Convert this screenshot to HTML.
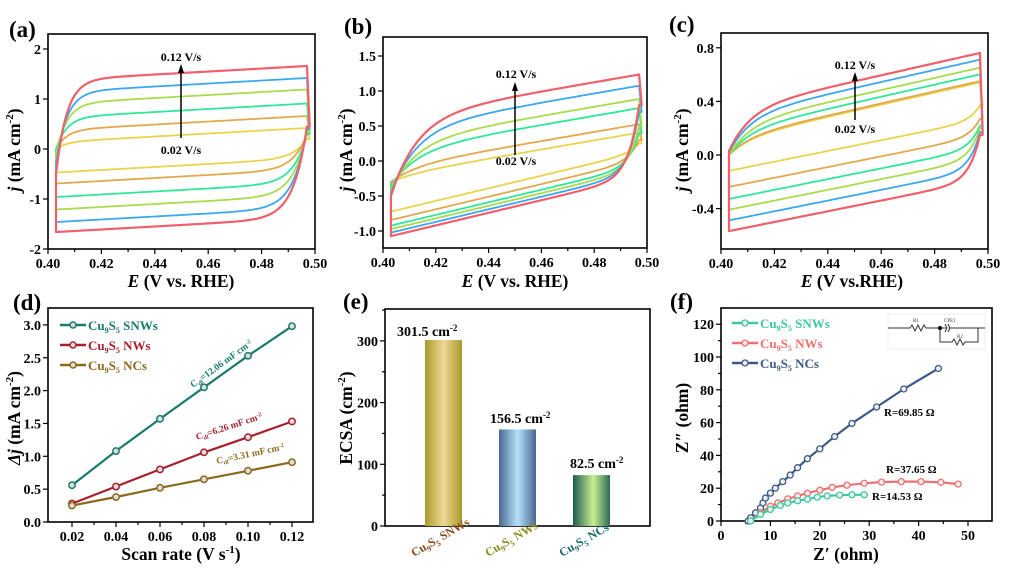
<!DOCTYPE html>
<html><head><meta charset="utf-8"><style>
html,body{margin:0;padding:0;background:#fff;}
svg{display:block;font-family:"Liberation Serif",serif;font-weight:bold;}
</style></head><body>
<svg id="s" width="1014" height="573" viewBox="0 0 1014 573" xmlns="http://www.w3.org/2000/svg">
<defs>
<linearGradient id="g1" x1="0" x2="1" y1="0" y2="0"><stop offset="0" stop-color="#a89a28"/><stop offset="0.5" stop-color="#f0d898"/><stop offset="1" stop-color="#a89a28"/></linearGradient>
<linearGradient id="g2" x1="0" x2="1" y1="0" y2="0"><stop offset="0" stop-color="#4a6890"/><stop offset="0.5" stop-color="#b4e2fa"/><stop offset="1" stop-color="#4a6890"/></linearGradient>
<linearGradient id="g3" x1="0" x2="1" y1="0" y2="0"><stop offset="0" stop-color="#1e5a50"/><stop offset="0.55" stop-color="#c8f090"/><stop offset="1" stop-color="#2a6a58"/></linearGradient>
</defs>
<g id="plots"></g>
<g font-size="23">
<text x="9" y="37">(a)</text><text x="344" y="34">(b)</text><text x="669" y="32">(c)</text>
<text x="13" y="310">(d)</text><text x="343" y="309">(e)</text><text x="670" y="309">(f)</text>
</g>
<g font-size="17.5" text-anchor="middle">
<text x="181" y="287"><tspan font-style="italic">E</tspan> (V vs. RHE)</text>
<text x="515" y="287"><tspan font-style="italic">E</tspan> (V vs. RHE)</text>
<text x="852" y="287"><tspan font-style="italic">E</tspan> (V vs.RHE)</text>
<text x="181" y="560">Scan rate (V s<tspan font-size="11" dy="-7">-1</tspan><tspan dy="7">)</tspan></text>
<text x="846" y="560">Z′ (ohm)</text>
<text transform="translate(20,150) rotate(-90)"><tspan font-style="italic">j</tspan> (mA cm<tspan font-size="11" dy="-7">-2</tspan><tspan dy="7">)</tspan></text>
<text transform="translate(352,150) rotate(-90)"><tspan font-style="italic">j</tspan> (mA cm<tspan font-size="11" dy="-7">-2</tspan><tspan dy="7">)</tspan></text>
<text transform="translate(688,150) rotate(-90)"><tspan font-style="italic">j</tspan> (mA cm<tspan font-size="11" dy="-7">-2</tspan><tspan dy="7">)</tspan></text>
<text transform="translate(20,418) rotate(-90)"><tspan font-style="italic">Δj</tspan> (mA cm<tspan font-size="11" dy="-7">-2</tspan><tspan dy="7">)</tspan></text>
<text transform="translate(352,418) rotate(-90)">ECSA (cm<tspan font-size="11" dy="-7">-2</tspan><tspan dy="7">)</tspan></text>
<text transform="translate(688,418) rotate(-90)">Z″ (ohm)</text>
</g>
<g font-size="12" text-anchor="middle">
<text x="181" y="61">0.12 V/s</text><text x="181" y="154">0.02 V/s</text>
<text x="516" y="78">0.12 V/s</text><text x="516" y="165">0.02 V/s</text>
<text x="855" y="69">0.12 V/s</text><text x="855" y="133">0.02 V/s</text>
</g>
<g font-size="14">
<text x="397" y="336">301.5 cm<tspan font-size="9" dy="-5">-2</tspan></text>
<text x="490" y="423">156.5 cm<tspan font-size="9" dy="-5">-2</tspan></text>
<text x="570" y="468">82.5 cm<tspan font-size="9" dy="-5">-2</tspan></text>
</g>
<g font-size="12">
<text transform="translate(414,557) rotate(-30)" fill="#8a4a1a">Cu<tspan font-size="8" dy="3">9</tspan><tspan dy="-3">S</tspan><tspan font-size="8" dy="3">5</tspan><tspan dy="-3"> SNWs</tspan></text>
<text transform="translate(488,557) rotate(-30)" fill="#8a8a1a">Cu<tspan font-size="8" dy="3">9</tspan><tspan dy="-3">S</tspan><tspan font-size="8" dy="3">5</tspan><tspan dy="-3"> NWs</tspan></text>
<text transform="translate(562,557) rotate(-30)" fill="#1a6a6a">Cu<tspan font-size="8" dy="3">9</tspan><tspan dy="-3">S</tspan><tspan font-size="8" dy="3">5</tspan><tspan dy="-3"> NCs</tspan></text>
</g>
<g font-size="13">
<text x="88" y="330" fill="#1a7a6e">Cu<tspan font-size="8" dy="3">9</tspan><tspan dy="-3">S</tspan><tspan font-size="8" dy="3">5</tspan><tspan dy="-3"> SNWs</tspan></text>
<text x="88" y="350" fill="#a8202e">Cu<tspan font-size="8" dy="3">9</tspan><tspan dy="-3">S</tspan><tspan font-size="8" dy="3">5</tspan><tspan dy="-3"> NWs</tspan></text>
<text x="88" y="370" fill="#8a6a1a">Cu<tspan font-size="8" dy="3">9</tspan><tspan dy="-3">S</tspan><tspan font-size="8" dy="3">5</tspan><tspan dy="-3"> NCs</tspan></text>
<text x="760" y="328" fill="#3cc9a0">Cu<tspan font-size="8" dy="3">9</tspan><tspan dy="-3">S</tspan><tspan font-size="8" dy="3">5</tspan><tspan dy="-3"> SNWs</tspan></text>
<text x="760" y="348" fill="#f07070">Cu<tspan font-size="8" dy="3">9</tspan><tspan dy="-3">S</tspan><tspan font-size="8" dy="3">5</tspan><tspan dy="-3"> NWs</tspan></text>
<text x="760" y="368" fill="#3d5a87">Cu<tspan font-size="8" dy="3">9</tspan><tspan dy="-3">S</tspan><tspan font-size="8" dy="3">5</tspan><tspan dy="-3"> NCs</tspan></text>
</g>
<g font-size="9.5">
<text transform="translate(193,388) rotate(-36)" fill="#1a7a6e">C<tspan font-size="6" dy="2">dl</tspan><tspan dy="-2">=12.06 mF cm</tspan><tspan font-size="6" dy="-3">-2</tspan></text>
<text transform="translate(197,440) rotate(-18)" fill="#a8202e">C<tspan font-size="6" dy="2">dl</tspan><tspan dy="-2">=6.26 mF cm</tspan><tspan font-size="6" dy="-3">-2</tspan></text>
<text transform="translate(217,464) rotate(-12)" fill="#8a6a1a">C<tspan font-size="6" dy="2">dl</tspan><tspan dy="-2">=3.31 mF cm</tspan><tspan font-size="6" dy="-3">-2</tspan></text>
</g>
<g font-size="11">
<text x="884" y="416">R=69.85 Ω</text>
<text x="886" y="473">R=37.65 Ω</text>
<text x="872" y="500">R=14.53 Ω</text>
</g>
<rect x="888" y="314" width="97" height="35" fill="none" stroke="#eee"/>
<g stroke="#333" fill="none" stroke-width="1">
<path d="M888 328 H910 l2 -3 3 6 3 -6 3 6 3 -6 2 3 H940 M940 328 H946 M949 328 H985 M940 328 V342 H952 l2 -3 3 6 3 -6 3 6 2 -3 H978 V328"/>
<path d="M945 324 l2 4 -2 4 M948 324 l2 4 -2 4"/>
</g>
<circle cx="940" cy="328" r="2" fill="#000"/>
<g font-size="5" fill="#333" font-weight="normal"><text x="913" y="322">R1</text><text x="944" y="322">CPE1</text><text x="957" y="338">R2</text></g>
</svg>
<script>
var G=document.getElementById('plots'),NS='http://www.w3.org/2000/svg';
function el(t,a,p){var e=document.createElementNS(NS,t);for(var k in a)e.setAttribute(k,a[k]);(p||G).appendChild(e);return e;}
function txt(x,y,s,anc,fs){var e=el('text',{x:x,y:y,'text-anchor':anc,'font-size':fs||14});e.textContent=s;}
function frame(x0,x1,y0,y1){el('rect',{x:x0,y:y0,width:x1-x0,height:y1-y0,fill:'none',stroke:'#000','stroke-width':1.6});}
function xt(x,yb,lab,major){el('line',{x1:x,x2:x,y1:yb,y2:yb+(major?5:3),stroke:'#000','stroke-width':1.2});if(lab!=null)txt(x,yb+19,lab,'middle');}
function yt(xl,y,lab,major){el('line',{x1:xl,x2:xl-(major?5:3),y1:y,y2:y,stroke:'#000','stroke-width':1.2});if(lab!=null)txt(xl-7,y+5,lab,'end');}
var cols=['#e8d44d','#e3a84b','#2ee89a','#a7dc4b','#3aa7f0','#f0606a'];
function cv(P){
 var X=function(v){return P.x0+(v-0.40)/0.1*(P.x1-P.x0)},Y=function(v){return P.yz-v*P.ys};
 frame(P.x0,P.x1,P.y0,P.y1);
 ['0.40','0.42','0.44','0.46','0.48','0.50'].forEach(function(l,i){xt(X(0.4+i*0.02),P.y1,l,1);if(i<5)xt(X(0.41+i*0.02),P.y1,null,0);});
 P.yt.forEach(function(v){yt(P.x0,Y(v[0]),v[1],1);});
 for(var k=0;k<6;k++){
  var m=P.m[k],n=P.n[k],d='',xl=P.xl,xr=P.xr;
  var uA=(m+P.sl*(xl-0.45))-P.j0[k];
  for(var x=xl;x<=xr+1e-9;x+=0.001){var v=m+P.sl*(x-0.45)-uA*Math.exp(-(x-xl)/P.tau);d+=(d?'L':'M')+X(x).toFixed(1)+' '+Y(v).toFixed(1);}
  var lB=P.j1[k]-(n+P.sl2*(xr-0.45));
  d+='L'+X(xr+0.001).toFixed(1)+' '+Y(P.j1[k]).toFixed(1);
  for(var x=xr;x>=xl-1e-9;x-=0.001){var v=n+P.sl2*(x-0.45)+lB*Math.exp(-(xr-x)/P.tau2);d+='L'+X(x).toFixed(1)+' '+Y(v).toFixed(1);}
  d+='Z';
  el('path',{d:d,fill:'none',stroke:cols[k],'stroke-width':k==5?2.2:1.8,'stroke-linejoin':'round'});
 }
 el('line',{x1:P.ax,x2:P.ax,y1:P.ay0,y2:P.ay1+8,stroke:'#000','stroke-width':1.5});
 el('path',{d:'M'+(P.ax-3)+' '+(P.ay1+9)+'L'+P.ax+' '+P.ay1+'L'+(P.ax+3)+' '+(P.ay1+9)+'Z',fill:'#000'});
}
cv({x0:48,x1:315,y0:34,y1:249,yz:149,ys:50,xl:0.403,xr:0.497,sl:3,sl2:3,tau:0.004,tau2:0.005,
 m:[0.28,0.52,0.77,1.05,1.28,1.52],n:[-0.33,-0.55,-0.82,-1.07,-1.32,-1.52],
 j0:[0.0,0,0,-0.1,-0.3,-0.5],j1:[0.2,0.3,0.3,0.35,0.4,0.45],
 yt:[[2,'2'],[1,'1'],[0,'0'],[-1,'-1'],[-2,'-2']],ax:181,ay0:138,ay1:64});
cv({x0:383,x1:647,y0:37,y1:248,yz:161,ys:70,xl:0.403,xr:0.497,sl:6.5,sl2:9,tau:0.01,tau2:0.004,
 m:[0.1,0.22,0.45,0.58,0.77,0.93],n:[-0.3,-0.42,-0.5,-0.55,-0.6,-0.65],
 j0:[-0.3,-0.3,-0.35,-0.4,-0.45,-0.5],j1:[0.25,0.3,0.4,0.5,0.7,0.8],
 yt:[[1.5,'1.5'],[1,'1.0'],[0.5,'0.5'],[0,'0.0'],[-0.5,'-0.5'],[-1,'-1.0']],ax:515,ay0:155,ay1:82});
cv({x0:721,x1:988,y0:33,y1:249,yz:155,ys:134,xl:0.403,xr:0.497,sl:4.5,sl2:4,tau:0.008,tau2:0.004,
 m:[0.33,0.34,0.39,0.44,0.5,0.55],n:[0.07,-0.05,-0.14,-0.22,-0.3,-0.38],
 j0:[0.0,0,0,0,0.02,0.03],j1:[0.37,0.27,0.22,0.2,0.17,0.15],
 yt:[[0.8,'0.8'],[0.4,'0.4'],[0,'0.0'],[-0.4,'-0.4']],ax:855,ay0:120,ay1:72});
(function(){
 var X=function(v){return 72+(v-0.02)*2200},Y=function(v){return 522-v*65.7};
 frame(48,313,308,522);
 ['0.02','0.04','0.06','0.08','0.10','0.12'].forEach(function(l,i){xt(X(0.02+i*0.02),522,l,1);if(i<5)xt(X(0.03+i*0.02),522,null,0);});
 for(var i=0;i<=6;i++)yt(48,Y(i*0.5),(i*0.5).toFixed(1),1);
 var D=[[0.56,1.08,1.57,2.05,2.53,2.98],[0.28,0.54,0.8,1.06,1.29,1.53],[0.25,0.38,0.52,0.65,0.78,0.91]],C=['#1a7a6e','#a8202e','#8a6a1a'];
 D.forEach(function(s,j){var d='';s.forEach(function(v,i){d+=(i?'L':'M')+X(0.02+i*0.02)+' '+Y(v).toFixed(1);});
  el('path',{d:d,fill:'none',stroke:C[j],'stroke-width':2.2});
  s.forEach(function(v,i){el('circle',{cx:X(0.02+i*0.02),cy:Y(v),r:3.2,fill:'#ddd',stroke:C[j],'stroke-width':1.5});});
  var ly=325+j*20;el('line',{x1:60,x2:86,y1:ly,y2:ly,stroke:C[j],'stroke-width':2.5});el('circle',{cx:73,cy:ly,r:3,fill:'#ddd',stroke:C[j],'stroke-width':1.5});});
})();
(function(){
 var Y=function(v){return 526-v*0.617};
 frame(385,650,309,526);
 [0,100,200,300].forEach(function(v){yt(385,Y(v),String(v),1);yt(385,Y(v+50),null,0);});
 el('rect',{x:425,y:Y(301.5),width:37,height:526-Y(301.5),fill:'url(#g1)'});
 el('rect',{x:499,y:Y(156.5),width:37,height:526-Y(156.5),fill:'url(#g2)'});
 el('rect',{x:573,y:Y(82.5),width:37,height:526-Y(82.5),fill:'url(#g3)'});
})();
(function(){
 var X=function(v){return 721+v*4.94},Y=function(v){return 521-v*1.64};
 frame(721,992,308,521);
 [0,10,20,30,40,50].forEach(function(v){xt(X(v),521,String(v),1);if(v<50)xt(X(v+5),521,null,0);});
 [0,20,40,60,80,100,120].forEach(function(v){yt(721,Y(v),String(v),1);if(v<120)yt(721,Y(v+10),null,0);});
 var S=[[[5.5,0],[6,2],[7,5],[8,8],[8.5,11],[9,14],[10,17],[11,20],[12.5,24],[14,28],[15.5,32.5],[17.5,38],[20,44],[23,51.5],[26.5,59.5],[31.5,69.5],[37,80.5],[44,93]],
 [[6,0],[8,5],[10,9],[11.5,11],[13.5,13.5],[15.5,15.3],[17.5,17],[20,18.8],[22.5,20.5],[25.5,21.8],[29,23],[32.5,23.7],[36.5,24],[40.5,24],[44.5,23.6],[48,22.5]],
 [[6,0],[8,4],[10,7],[12,9.5],[13.5,11],[15.5,12.3],[17.5,13.3],[19.5,14.5],[21.5,15.3],[24,15.8],[26.5,16],[29,16]]],C=['#3d5a87','#f07070','#3cc9a0'];
 S.forEach(function(s,j){var d='';s.forEach(function(p,i){d+=(i?'L':'M')+X(p[0]).toFixed(1)+' '+Y(p[1]).toFixed(1);});
  el('path',{d:d,fill:'none',stroke:C[j],'stroke-width':2.2});
  s.forEach(function(p){el('circle',{cx:X(p[0]),cy:Y(p[1]),r:3,fill:'#eee',stroke:C[j],'stroke-width':1.3});});});
 [['#3cc9a0',323],['#f07070',343],['#3d5a87',363]].forEach(function(a){el('line',{x1:732,x2:758,y1:a[1],y2:a[1],stroke:a[0],'stroke-width':2.5});el('circle',{cx:745,cy:a[1],r:3,fill:'#eee',stroke:a[0],'stroke-width':1.3});});
})();
</script>
</body></html>
